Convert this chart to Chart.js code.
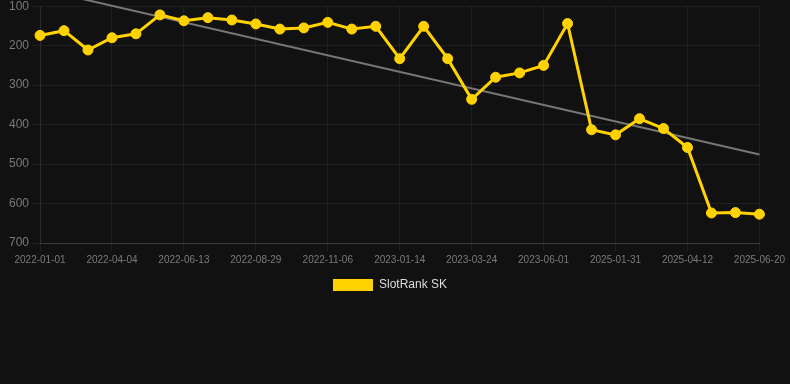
<!DOCTYPE html>
<html>
<head>
<meta charset="utf-8">
<script src="https://cdn.jsdelivr.net/npm/chart.js@4"></script>
<style>
  html, body { margin:0; padding:0; background:#111111; overflow:hidden; }
  #wrap { width:790px; height:305px; position:relative; margin-top:-4px; }
</style>
</head>
<body>
<div id="wrap"><canvas id="c"></canvas></div>
<script>
const categories = [
  "2022-01-01","2022-02-01","2022-03-03","2022-04-04","2022-04-28","2022-05-20",
  "2022-06-13","2022-07-08","2022-08-03","2022-08-29","2022-09-24","2022-10-15",
  "2022-11-06","2022-11-30","2022-12-22","2023-01-14","2023-02-07","2023-03-01",
  "2023-03-24","2023-04-16","2023-05-09","2023-06-01","2023-06-25","2024-12-15",
  "2025-01-31","2025-02-22","2025-03-18","2025-04-12","2025-05-05","2025-05-28",
  "2025-06-20"
];
const rankValues = [
  174, 162, 211, 180, 170, 122, 137, 129, 135, 145, 158, 155, 141, 158, 151,
  233, 151, 233, 336, 280, 269, 250, 144, 413, 426, 385, 410, 458, 624, 623, 627
];
const trendStart = 57;
const trendEnd = 476;
const yTicks = [100, 200, 300, 400, 500, 600, 700];

const trendValues = categories.map((_, i) =>
  i === 0 ? trendStart : (i === categories.length - 1 ? trendEnd : null));

new Chart(document.getElementById('c'), {
  type: 'line',
  data: {
    labels: categories,
    datasets: [
      {
        label: 'SlotRank SK',
        data: rankValues,
        borderColor: '#FFD200',
        backgroundColor: '#FFD200',
        borderWidth: 3,
        pointRadius: 5,
        pointHoverRadius: 6,
        pointBorderWidth: 1,
        pointBackgroundColor: '#FFD200',
        pointBorderColor: '#FFD200',
        tension: 0,
        order: 1
      },
      {
        label: 'trend',
        data: trendValues,
        borderColor: 'rgba(130,130,130,0.9)',
        borderWidth: 2,
        pointRadius: 0,
        spanGaps: true,
        clip: false,
        order: 2
      }
    ]
  },
  options: {
    responsive: true,
    maintainAspectRatio: false,
    animation: false,
    layout: { padding: { right: 10 } },
    plugins: {
      legend: {
        position: 'bottom',
        labels: {
          color: '#dddddd',
          font: { size: 12, family: 'Liberation Sans, Arial, sans-serif' },
          boxWidth: 40,
          boxHeight: 12,
          filter: (item) => { item.lineWidth = 0; return item.text !== 'trend'; }
        }
      },
      tooltip: { enabled: false }
    },
    scales: {
      x: {
        afterFit: (scale) => { scale.paddingRight += 2; },
        grid: { color: 'rgba(255,255,255,0.06)' },
        border: { color: 'rgba(255,255,255,0.12)' },
        ticks: {
          color: '#7a7a7a',
          font: { size: 10, family: 'Liberation Sans, Arial, sans-serif' },
          autoSkip: false,
          maxRotation: 0,
          callback: function(v, i) { return i % 3 === 0 ? categories[i] : null; }
        }
      },
      y: {
        reverse: true,
        min: yTicks[0],
        max: yTicks[yTicks.length - 1],
        afterBuildTicks: (axis) => { axis.ticks = yTicks.map(v => ({ value: v })); },
        afterFit: (scale) => { scale.width += 6; },
        grid: { color: 'rgba(255,255,255,0.06)' },
        border: { color: 'rgba(255,255,255,0.06)' },
        ticks: {
          color: '#7a7a7a',
          font: { size: 12, family: 'Liberation Sans, Arial, sans-serif' }
        }
      }
    }
  }
});
</script>
</body>
</html>
